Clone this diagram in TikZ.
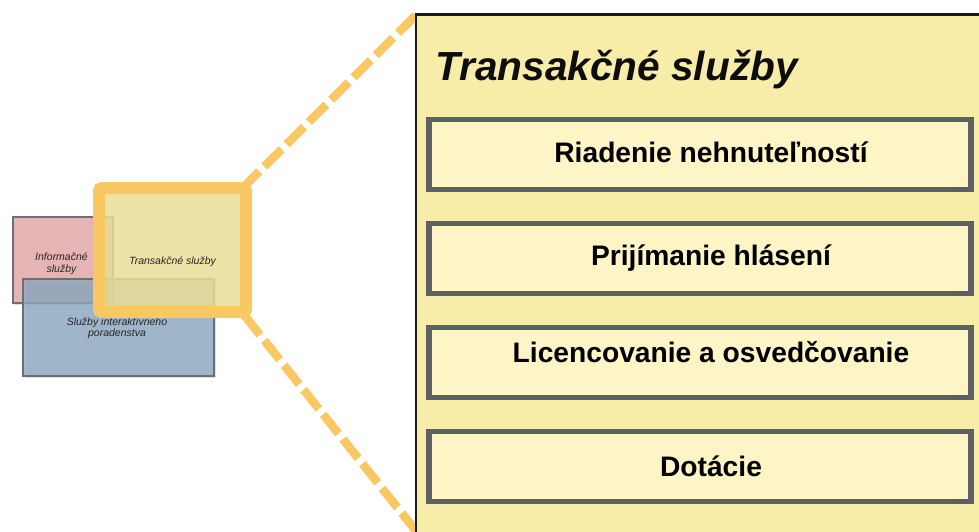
\documentclass[tikz,border=0pt]{standalone}
\usepackage{fontspec}
\setmainfont{Liberation Sans}
\usetikzlibrary{shadows,positioning}
\definecolor{panelfill}{HTML}{F7ECA8}
\definecolor{itemfill}{HTML}{FDF5C6}
\definecolor{itemline}{HTML}{5C5F63}
\definecolor{smallline}{HTML}{6E6E70}
\definecolor{goldline}{HTML}{FAC862}
\definecolor{pinkfill}{HTML}{E6B4B4}
\definecolor{bluefill}{HTML}{8FAAC3}
\definecolor{goldfill}{HTML}{E8DD96}
\tikzset{
  itembox/.style={draw=itemline,line width=5.5pt,outer sep=0pt,fill=itemfill,minimum width=542pt,minimum height=70pt,anchor=north west,inner sep=0pt,font=\fontsize{28.2}{30}\selectfont\bfseries,text=black},
  smallbox/.style={draw=smallline,line width=2pt,outer sep=0pt,anchor=north west,inner sep=0pt},
  smalltext/.style={font=\fontsize{10.5}{11.5}\selectfont\itshape,align=center,inner sep=0pt,text=black!85},
  softshadow/.style={general shadow={shadow xshift=1.5pt,shadow yshift=-2pt,fill=black,opacity=.12}},
  zoomline/.style={draw=goldline,line width=8.5pt,dash pattern=on 24.5pt off 7pt},
}
\begin{document}
\begin{tikzpicture}[x=1pt,y=-1pt]
\useasboundingbox (0,0) rectangle (979,531);
\clip (0,0) rectangle (979,531);
% zoom connectors
\coordinate (endtop) at (416,15);
\coordinate (endbot) at (416,531);
\coordinate (golda) at (242,188.7);
\coordinate (goldb) at (244.7,315.8);
\draw[zoomline] (golda) -- (endtop);
\draw[zoomline] (goldb) -- (endbot);
% panel
\node[draw=black!90,line width=2.3pt,outer sep=0pt,fill=panelfill,anchor=north west,minimum width=600pt,minimum height=560pt,inner sep=0pt] (panel) at (416,14.5) {};
\node[anchor=base west,inner sep=0pt,font=\fontsize{40.6}{44}\selectfont\bfseries\itshape,text=black!95] (title) at (435,80) {Transakčné služby};
\node[itembox] (b1) at (429,119.5) {\hspace{22pt}\raisebox{4pt}{Riadenie nehnuteľností}};
\node[itembox] (b2) at (429,223.5) {\hspace{22pt}\raisebox{1pt}{Prijímanie hlásení}};
\node[itembox] (b3) at (429,327.5) {\hspace{22pt}\raisebox{21pt}{Licencovanie a osvedčovanie}};
\node[itembox] (b4) at (429,431.5) {\hspace{22pt}Dotácie};
% small overview
\node[smallbox,fill=pinkfill,softshadow,minimum width=100pt,minimum height=86pt] (info) at (12.5,216.5) {};
\node[smalltext] (infot) at (61.5,263.5) {Informačné\\služby};
\node[smallbox,fill=bluefill,fill opacity=.8,softshadow,minimum width=191pt,minimum height=97pt] (serv) at (23,278.5) {};
\node[smalltext] (servt) at (117,328) {Služby interaktívneho\\poradenstva};
\node[draw=goldline,line width=12pt,outer sep=0pt,fill=goldfill,fill opacity=.85,draw opacity=1,rounded corners=3pt,minimum width=147pt,minimum height=124pt,inner sep=0pt,anchor=north west] (trans) at (99,188) {};
\node[smalltext] (transt) at (172.5,262) {Transakčné služby};
\end{tikzpicture}
\end{document}
